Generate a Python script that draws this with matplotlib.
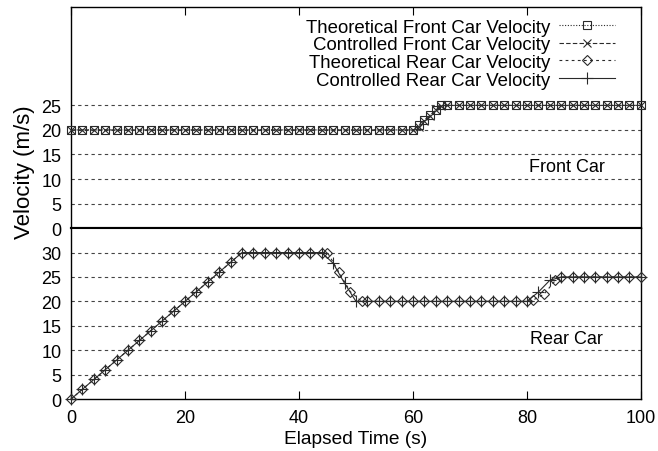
import matplotlib
matplotlib.use("Agg")
import matplotlib.pyplot as plt

plt.rcParams['font.family'] = ['Liberation Sans', 'DejaVu Sans']
plt.rcParams['font.size'] = 13

# front car (top panel)
front_time = [0, 2, 4, 6, 8, 10, 12, 14, 16, 18, 20, 22, 24, 26, 28, 30,
              32, 34, 36, 38, 40, 42, 44, 46, 48, 50, 52, 54, 56, 58, 60,
              61, 62, 63, 64, 65, 66, 68, 70, 72, 74, 76, 78, 80, 82, 84,
              86, 88, 90, 92, 94, 96, 98, 100]
front_theoretical = [20, 20, 20, 20, 20, 20, 20, 20, 20, 20, 20, 20, 20, 20,
                     20, 20, 20, 20, 20, 20, 20, 20, 20, 20, 20, 20, 20, 20,
                     20, 20, 20, 21, 22, 23, 24, 25, 25, 25, 25, 25, 25, 25,
                     25, 25, 25, 25, 25, 25, 25, 25, 25, 25, 25, 25]
front_controlled = [20, 20, 20, 20, 20, 20, 20, 20, 20, 20, 20, 20, 20, 20,
                    20, 20, 20, 20, 20, 20, 20, 20, 20, 20, 20, 20, 20, 20,
                    20, 20, 20, 20.6, 21.8, 22.9, 24.1, 24.9, 25, 25, 25, 25,
                    25, 25, 25, 25, 25, 25, 25, 25, 25, 25, 25, 25, 25, 25]

# rear car (bottom panel)
rear_theo_time = [0, 2, 4, 6, 8, 10, 12, 14, 16, 18, 20, 22, 24, 26, 28, 30,
                  32, 34, 36, 38, 40, 42, 44, 45, 47, 49, 51, 52, 54, 56, 58,
                  60, 62, 64, 66, 68, 70, 72, 74, 76, 78, 80, 81, 83, 85, 86,
                  88, 90, 92, 94, 96, 98, 100]
rear_theoretical = [0, 2, 4, 6, 8, 10, 12, 14, 16, 18, 20, 22, 24, 26, 28,
                    30, 30, 30, 30, 30, 30, 30, 30, 30, 26, 22, 20, 20, 20,
                    20, 20, 20, 20, 20, 20, 20, 20, 20, 20, 20, 20, 20, 20.2,
                    21.5, 24.3, 25, 25, 25, 25, 25, 25, 25, 25]
rear_ctrl_time = [0, 2, 4, 6, 8, 10, 12, 14, 16, 18, 20, 22, 24, 26, 28, 30,
                  32, 34, 36, 38, 40, 42, 44, 46, 48, 50, 52, 54, 56, 58, 60,
                  62, 64, 66, 68, 70, 72, 74, 76, 78, 80, 82, 84, 86, 88, 90,
                  92, 94, 96, 98, 100]
rear_controlled = [0, 2, 4, 6, 8, 10, 12, 14, 16, 18, 20, 22, 24, 26, 28, 30,
                   30, 30, 30, 30, 30, 30, 30, 27.8, 23.7, 20, 20, 20, 20, 20,
                   20, 20, 20, 20, 20, 20, 20, 20, 20, 20, 20, 21.9, 24.3, 25,
                   25, 25, 25, 25, 25, 25, 25]

x_ticks = [0, 20, 40, 60, 80, 100]
front_ticks = [0, 5, 10, 15, 20, 25]
rear_ticks = [0, 5, 10, 15, 20, 25, 30]

ink = '#2a2a2a'

fig = plt.figure(figsize=(6.58, 4.52), dpi=100)
ax_top = fig.add_axes([0.108, 0.493, 0.866, 0.489])
ax_bot = fig.add_axes([0.108, 0.115, 0.866, 0.378])

h1, = ax_top.plot(front_time, front_theoretical, color=ink, lw=0.8,
                  ls=(0, (1, 1.5)), marker='s', ms=6, mfc='none', mew=0.8,
                  clip_on=False, zorder=3)
h2, = ax_top.plot(front_time, front_controlled, color=ink, lw=0.8,
                  ls=(0, (4, 2)), marker='x', ms=6, mew=0.8,
                  clip_on=False, zorder=4)
h3, = ax_bot.plot(rear_theo_time, rear_theoretical, color=ink, lw=0.8,
                  ls=(0, (2.5, 3)), marker='D', ms=5, mfc='none', mew=0.8,
                  clip_on=False, zorder=3)
h4, = ax_bot.plot(rear_ctrl_time, rear_controlled, color=ink, lw=0.8,
                  ls='-', marker='+', ms=8, mew=0.8,
                  clip_on=False, zorder=4)

for ax, ticks, top in ((ax_top, front_ticks, 45), (ax_bot, rear_ticks, 35)):
    ax.set_xlim(0, 100)
    ax.set_ylim(0, top)
    ax.set_yticks(ticks)
    ax.set_xticks(x_ticks)
    for t in ticks[1:]:
        ax.axhline(t, color='#444444', lw=0.8, ls=(0, (3, 3)), zorder=1)
    ax.tick_params(axis='y', length=0, pad=7)
    for s in ax.spines.values():
        s.set_linewidth(1.0)
        s.set_color('black')

ax_top.spines['bottom'].set_linewidth(1.5)
ax_bot.spines['top'].set_linewidth(1.5)

ax_top.tick_params(axis='x', direction='in', length=6, top=True, bottom=False,
                   labelbottom=False)
ax_bot.tick_params(axis='x', direction='in', length=6, top=False, pad=7)

ax_bot.set_xlabel('Elapsed Time (s)', fontsize=13.8, labelpad=3)
fig.text(0.037, 0.62, 'Velocity (m/s)', rotation=90, ha='center', va='center',
         fontsize=16)

ax_top.text(87, 12.5, 'Front Car', ha='center', va='center')
ax_bot.text(87, 12.5, 'Rear Car', ha='center', va='center')

ax_top.legend([h1, h2, h3, h4],
              ['Theoretical Front Car Velocity', 'Controlled Front Car Velocity',
               'Theoretical Rear Car Velocity', 'Controlled Rear Car Velocity'],
              loc='upper right', bbox_to_anchor=(0.955, 0.9475), frameon=False,
              markerfirst=False, handlelength=3.0, handletextpad=0.5,
              labelspacing=0.03, borderpad=0, borderaxespad=0, numpoints=1,
              fontsize=13.4)

fig.savefig('out.png', dpi=100)
